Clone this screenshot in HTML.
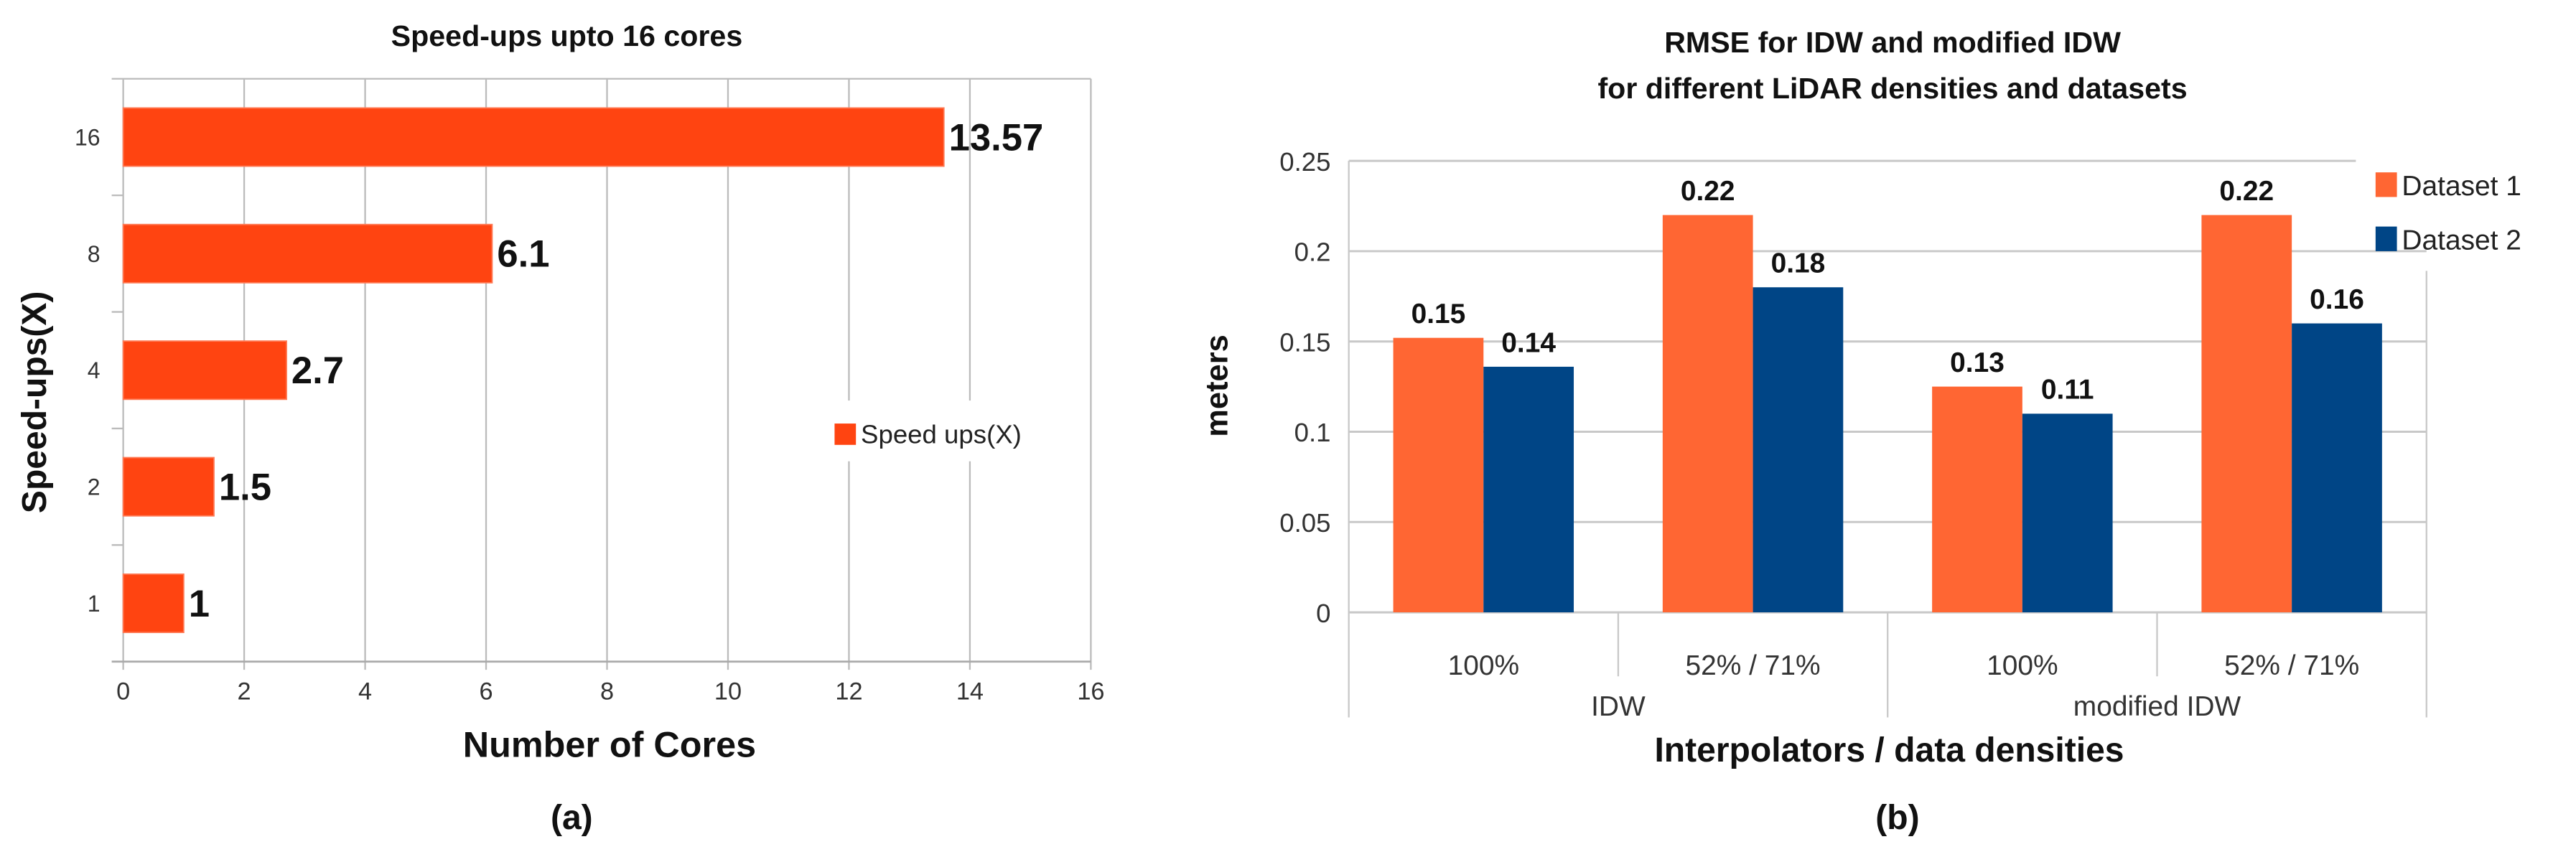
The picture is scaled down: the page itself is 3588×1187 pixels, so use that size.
<!DOCTYPE html>
<html><head><meta charset="utf-8"><style>
html,body{margin:0;padding:0;background:#fff;}
svg{display:block;}
text{font-family:"Liberation Sans Narrow","Liberation Sans",sans-serif;}
</style></head><body>
<svg id="fig" width="3588" height="1187" viewBox="0 0 1568 519" preserveAspectRatio="none">
<g id="chartA"></g>
<g id="chartB"></g>
</svg>
<script>
const aCategories = ["16","8","4","2","1"];
const aValues = [13.57, 6.1, 2.7, 1.5, 1];
const aLabels = ["13.57","6.1","2.7","1.5","1"];
const aTicks = [0,2,4,6,8,10,12,14,16];

const bGroups = ["IDW","modified IDW"];
const bCategories = ["100%","52% / 71%","100%","52% / 71%"];
const bSeries1 = [0.152, 0.22, 0.125, 0.22];
const bSeries2 = [0.136, 0.18, 0.11, 0.16];
const bLabels1 = ["0.15","0.22","0.13","0.22"];
const bLabels2 = ["0.14","0.18","0.11","0.16"];
const bTicks = [0,0.05,0.1,0.15,0.2,0.25];
const bTickLabels = ["0","0.05","0.1","0.15","0.2","0.25"];

const NS="http://www.w3.org/2000/svg";
function mk(parent,tag,attrs,txt){const e=document.createElementNS(NS,tag);for(const k in attrs)e.setAttribute(k,attrs[k]);if(txt!==undefined)e.textContent=txt;parent.appendChild(e);return e;}

// ---- Chart A
const A=document.getElementById('chartA');
const ax0=75, ax1=664, aTop=48, aBot=403;
const ax=v=>ax0+(ax1-ax0)*v/16;
const band=(aBot-aTop)/aCategories.length;
let t=mk(A,'text',{x:345,y:28,'text-anchor':'middle','font-size':18,'font-weight':'bold',fill:'#111'},'Speed-ups upto 16 cores');


aTicks.forEach(v=>{
  const l=mk(A,'line',{x1:ax(v),x2:ax(v),y1:aTop,y2:aBot+5,stroke:'#bbb','stroke-width':1});
  
  
  const tx=mk(A,'text',{x:ax(v),y:426,'text-anchor':'middle','font-size':15,fill:'#333'},String(v));
  
  
});
let l0=mk(A,'line',{x1:68,x2:ax1,y1:aTop,y2:aTop,stroke:'#bbb','stroke-width':1});


let l1=mk(A,'line',{x1:68,x2:ax1,y1:aBot,y2:aBot,stroke:'#aaa','stroke-width':1.2});


for(let i=1;i<aCategories.length;i++){
  const tk=mk(A,'line',{x1:68,x2:ax0,y1:aTop+band*i,y2:aTop+band*i,stroke:'#bbb','stroke-width':1});
  
  
}
let lg=mk(A,'rect',{x:500,y:244,width:142,height:37,fill:'#fff'});


aCategories.forEach((c,i)=>{
  const cy=aTop+band*(i+0.5), h=band*0.5;
  const r=mk(A,'rect',{x:ax0,y:cy-h/2,width:ax(aValues[i])-ax0,height:h,fill:'#ff4411',stroke:'#ff7a55','stroke-width':0.8});
  
  
  const vl=mk(A,'text',{x:ax(aValues[i])+3,y:cy+8,'font-size':23,'font-weight':'bold',fill:'#111'},aLabels[i]);
  
  
  const yl=mk(A,'text',{x:61,y:cy+5,'text-anchor':'end','font-size':14,fill:'#333'},c);
  
  
});
let ls=mk(A,'rect',{x:508,y:258,width:13,height:13,fill:'#ff4411'});


let lt=mk(A,'text',{x:524,y:270,'font-size':16,fill:'#222'},'Speed ups(X)');


let xt=mk(A,'text',{x:371,y:461,'text-anchor':'middle','font-size':22,'font-weight':'bold',fill:'#111'},'Number of Cores');


let yt=mk(A,'text',{x:0,y:0,transform:'translate(28,245) rotate(-90)','text-anchor':'middle','font-size':21,'font-weight':'bold',fill:'#111'},'Speed-ups(X)');


let ca=mk(A,'text',{x:348,y:505,'text-anchor':'middle','font-size':21,'font-weight':'bold',fill:'#111'},'(a)');



// ---- Chart B
const B=document.getElementById('chartB');
const bx0=821, bx1=1477, by0=373, by1=98;
const by=v=>by0-(by0-by1)*v/0.25;
const catW=(bx1-bx0)/bCategories.length;
let t1=mk(B,'text',{x:1152,y:32,'text-anchor':'middle','font-size':18,'font-weight':'bold',fill:'#111'},'RMSE for IDW and modified IDW');


let t2=mk(B,'text',{x:1152,y:60,'text-anchor':'middle','font-size':18,'font-weight':'bold',fill:'#111'},'for different LiDAR densities and datasets');


bTicks.forEach((v,i)=>{
  const g=mk(B,'line',{x1:bx0,x2:(i===bTicks.length-1?1434:bx1),y1:by(v),y2:by(v),stroke:'#c8c8c8','stroke-width':1.3});
  
  
  const tl=mk(B,'text',{x:810,y:by(v)+6,'text-anchor':'end','font-size':16,fill:'#333'},bTickLabels[i]);
  
  
});
let lb=mk(B,'line',{x1:bx0,x2:bx0,y1:by1,y2:437,stroke:'#c8c8c8','stroke-width':1});


let rb=mk(B,'line',{x1:bx1,x2:bx1,y1:165,y2:437,stroke:'#c8c8c8','stroke-width':1});


for(let i=1;i<bCategories.length;i++){
  const xx=bx0+catW*i;
  const d=mk(B,'line',{x1:xx,x2:xx,y1:by0,y2:(i%2===0?437:412),stroke:'#c8c8c8','stroke-width':1});
  
  
}
const bw=catW*0.335, gap=(catW-2*bw)/2;
bCategories.forEach((c,i)=>{
  const xs=bx0+catW*i+gap;
  const r1=mk(B,'rect',{x:xs,y:by(bSeries1[i]),width:bw,height:by0-by(bSeries1[i]),fill:'#ff6633'});
  
  
  const r2=mk(B,'rect',{x:xs+bw,y:by(bSeries2[i]),width:bw,height:by0-by(bSeries2[i]),fill:'#004586'});
  
  
  const v1=mk(B,'text',{x:xs+bw/2,y:by(bSeries1[i])-9,'text-anchor':'middle','font-size':17,'font-weight':'bold',fill:'#111'},bLabels1[i]);
  
  
  const v2=mk(B,'text',{x:xs+bw*1.5,y:by(bSeries2[i])-9,'text-anchor':'middle','font-size':17,'font-weight':'bold',fill:'#111'},bLabels2[i]);
  
  
  const cl=mk(B,'text',{x:bx0+catW*(i+0.5),y:411,'text-anchor':'middle','font-size':17,fill:'#333'},c);
  
  
});
bGroups.forEach((g,i)=>{
  const gl=mk(B,'text',{x:bx0+catW*(2*i+1),y:436,'text-anchor':'middle','font-size':17,fill:'#333'},g);
  
  
});
let s1=mk(B,'rect',{x:1446,y:105,width:13,height:15,fill:'#ff6633'});


let e1=mk(B,'text',{x:1462,y:119,'font-size':17,fill:'#222'},'Dataset 1');


let s2=mk(B,'rect',{x:1446,y:138,width:13,height:15,fill:'#004586'});


let e2=mk(B,'text',{x:1462,y:152,'font-size':17,fill:'#222'},'Dataset 2');


let bxt=mk(B,'text',{x:1150,y:464,'text-anchor':'middle','font-size':21,'font-weight':'bold',fill:'#111'},'Interpolators / data densities');


let byt=mk(B,'text',{x:0,y:0,transform:'translate(747,235) rotate(-90)','text-anchor':'middle','font-size':19,'font-weight':'bold',fill:'#111'},'meters');


let cb=mk(B,'text',{x:1155,y:505,'text-anchor':'middle','font-size':21,'font-weight':'bold',fill:'#111'},'(b)');


</script>
</body></html>
